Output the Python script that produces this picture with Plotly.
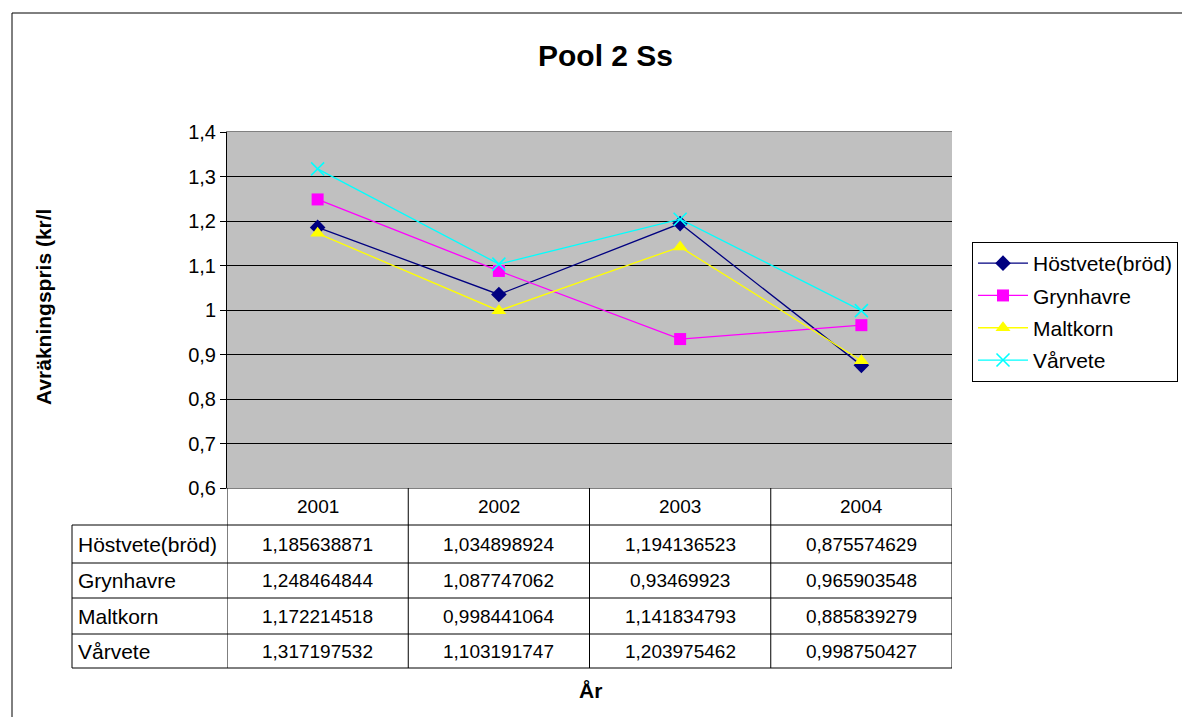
import plotly.graph_objects as go

W, H = 1182, 717

years = ["2001", "2002", "2003", "2004"]
series_names = ["Höstvete(bröd)", "Grynhavre", "Maltkorn", "Vårvete"]
hostvete = [1.185638871, 1.034898924, 1.194136523, 0.875574629]
grynhavre = [1.248464844, 1.087747062, 0.93469923, 0.965903548]
maltkorn = [1.172214518, 0.998441064, 1.141834793, 0.885839279]
varvete = [1.317197532, 1.103191747, 1.203975462, 0.998750427]
series_values = [hostvete, grynhavre, maltkorn, varvete]
colors = ["#000080", "#FF00FF", "#FFFF00", "#00FFFF"]
symbols = ["diamond", "square", "triangle-up", "x-thin"]
y_ticks = [0.6, 0.7, 0.8, 0.9, 1.0, 1.1, 1.2, 1.3, 1.4]

FONT = "Arial, Liberation Sans, sans-serif"

def px_x(p):
    return p / W

def px_y(p):
    return 1 - p / H

PL, PR, PT, PB = 227, 952, 132, 488
row_lines = [488, 525, 563, 598, 634, 668]
TABLE_LEFT = 72

fig = go.Figure()
for name, vals, col, sym in zip(series_names, series_values, colors, symbols):
    marker = dict(symbol=sym, size=12, color=col)
    if sym == "triangle-up":
        marker = dict(symbol=sym, size=13, color=col)
    if sym == "x-thin":
        marker = dict(symbol=sym, size=13, color=col, line=dict(color=col, width=1.6))
    fig.add_trace(go.Scatter(
        x=years, y=vals, name=name, mode="lines+markers",
        line=dict(color=col, width=1.3), marker=marker,
        legendgroup=name,
    ))

shapes = []
ann = []

# outer border
shapes.append(dict(type="rect", xref="paper", yref="paper",
                   x0=px_x(12), x1=px_x(1195), y0=px_y(13), y1=px_y(730),
                   line=dict(color="black", width=1)))

# table: vertical lines (in x data coords)
for i in range(5):
    xv = -0.5 + i
    shapes.append(dict(type="line", xref="x", yref="paper", x0=xv, x1=xv,
                       y0=px_y(row_lines[0]), y1=px_y(row_lines[-1]),
                       line=dict(color="black", width=1)))
# horizontal lines
for r in row_lines[1:]:
    shapes.append(dict(type="line", xref="paper", yref="paper",
                       x0=px_x(TABLE_LEFT), x1=px_x(PR),
                       y0=px_y(r), y1=px_y(r), line=dict(color="black", width=1)))
# left border of table
shapes.append(dict(type="line", xref="paper", yref="paper",
                   x0=px_x(TABLE_LEFT), x1=px_x(TABLE_LEFT),
                   y0=px_y(row_lines[1]), y1=px_y(row_lines[-1]),
                   line=dict(color="black", width=1)))

def fmt(v):
    s = f"{v:.9f}".rstrip("0").rstrip(".")
    return s.replace(".", ",")

NF = dict(family=FONT, size=19, color="black")
LF = dict(family=FONT, size=21, color="black")
# header
for i, yr in enumerate(years):
    ann.append(dict(x=i, y=px_y((row_lines[0] + row_lines[1]) / 2), xref="x", yref="paper",
                    text=yr, showarrow=False, font=NF, xanchor="center", yanchor="middle"))
for r, (name, vals) in enumerate(zip(series_names, series_values)):
    yc = px_y((row_lines[r + 1] + row_lines[r + 2]) / 2)
    ann.append(dict(x=px_x(TABLE_LEFT + 4), y=yc, xref="paper", yref="paper",
                    text=name, showarrow=False, font=LF, xanchor="left", yanchor="middle"))
    for i, v in enumerate(vals):
        ann.append(dict(x=i, y=yc, xref="x", yref="paper", text=fmt(v),
                        showarrow=False, font=NF, xanchor="center", yanchor="middle"))

# titles
ann.append(dict(x=px_x(605), y=px_y(56), xref="paper", yref="paper", text="<b>Pool 2 Ss</b>",
                showarrow=False, font=dict(family=FONT, size=30, color="black"),
                xanchor="center", yanchor="middle"))
ann.append(dict(x=px_x(590), y=px_y(690), xref="paper", yref="paper", text="<b>År</b>",
                showarrow=False, font=dict(family=FONT, size=21, color="black"),
                xanchor="center", yanchor="middle"))
ann.append(dict(x=px_x(44), y=px_y(307), xref="paper", yref="paper",
                text="<b>Avräkningspris (kr/l</b>", textangle=-90,
                showarrow=False, font=dict(family=FONT, size=21, color="black"),
                xanchor="center", yanchor="middle"))

fig.update_layout(
    width=W, height=H,
    autosize=False,
    margin=dict(l=0, r=0, t=0, b=0, pad=0),
    paper_bgcolor="white",
    plot_bgcolor="#C0C0C0",
    separators=", ",
    font=dict(family=FONT, size=19, color="black"),
    xaxis=dict(domain=[px_x(PL), px_x(PR)], type="category", range=[-0.5, 3.5],
               showticklabels=False, showgrid=False, zeroline=False, automargin=False,
               showline=True, linecolor="#808080", linewidth=1, mirror=True, ticks=""),
    yaxis=dict(domain=[px_y(PB), px_y(PT)], range=[0.6, 1.4], tickvals=y_ticks,
               showgrid=True, gridcolor="black", gridwidth=1, zeroline=False, automargin=False,
               showline=True, linecolor="black", linewidth=1,
               ticks="outside", ticklen=6, tickcolor="black",
               tickfont=dict(family=FONT, size=20, color="black")),
    legend=dict(x=px_x(972), y=px_y(242), xanchor="left", yanchor="top",
                bordercolor="black", borderwidth=1, bgcolor="white",
                font=dict(family=FONT, size=21, color="black"),
                tracegroupgap=2, traceorder="grouped", itemwidth=50),
    shapes=shapes,
    annotations=ann,
    showlegend=True,
)

fig.write_html("out.html", config={"displayModeBar": False},
               post_script="document.body.style.margin='0';document.body.style.overflow='hidden';")
